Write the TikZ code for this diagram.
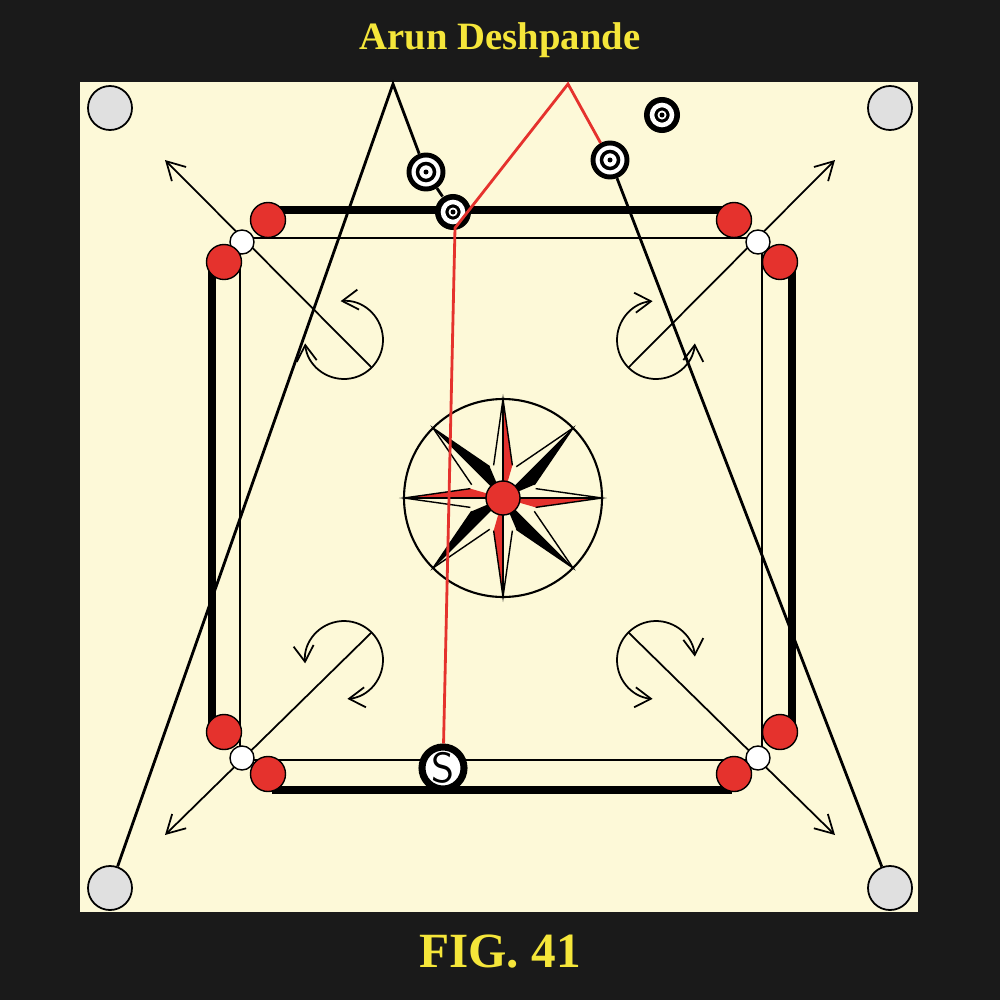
\documentclass[tikz,border=0pt]{standalone}
\usepackage{fontspec}
\setmainfont{Liberation Serif}
\usetikzlibrary{arrows.meta,calc}
\definecolor{board}{HTML}{FDF9D8}
\definecolor{frame}{HTML}{1A1A1A}
\definecolor{coinred}{HTML}{E5322D}
\definecolor{title}{HTML}{F5E63A}
\tikzset{
  pocket/.style={circle, draw=black, fill=black!12, line width=0.5pt, minimum size=0.44cm, inner sep=0pt},
  redcoin/.style={circle, draw=black, fill=coinred, line width=0.4pt, minimum size=0.35cm, inner sep=0pt},
  ring/.style={circle, draw=black, fill=white, line width=0.4pt, minimum size=0.24cm, inner sep=0pt},
  spin/.style={line width=0.5pt, {Straight Barb[length=1.6mm,width=2mm]}-{Straight Barb[length=1.6mm,width=2mm]}},
  aim/.style={line width=0.5pt, -{Straight Barb[length=1.8mm,width=2mm]}},
  shot/.style={line width=0.8pt},
}
% target style coins: white or black
\newcommand{\wcoin}[2]{%
  \node[circle, draw=black, fill=white, line width=1.4pt, minimum size=0.34cm, inner sep=0pt] (#1) at #2 {};
  \draw[line width=1pt] #2 circle (0.085cm);
  \fill #2 circle (0.025cm);}
\newcommand{\bcoin}[2]{%
  \node[circle, fill=black, minimum size=0.36cm, inner sep=0pt] (#1) at #2 {};
  \draw[white, line width=1.3pt] #2 circle (0.1cm);
  \fill[white] #2 circle (0.045cm);
  \fill #2 circle (0.025cm);}
\begin{document}
\begin{tikzpicture}[x=0.01cm, y=-0.01cm]
  \useasboundingbox (0,0) rectangle (1000,1000);
  \fill[frame] (0,0) rectangle (1000,1000);
  \fill[board] (80,82) rectangle (918,912);
  % pockets
  \node[pocket] (ptl) at (110,108) {};
  \node[pocket] (ptr) at (890,108) {};
  \node[pocket] (pbl) at (110,888) {};
  \node[pocket] (pbr) at (890,888) {};
  % base lines
  \draw[line width=2.2pt] (272,210) -- (732,210) (272,790) -- (732,790)
    (212,265) -- (212,728) (792,265) -- (792,728);
  \draw[line width=0.6pt] (254,238) -- (746,238) (254,760) -- (746,760)
    (240,254) -- (240,746) (762,254) -- (762,746);
  % corner aim lines and spin arcs
  \foreach \cx/\cy/\tx/\ty/\ea/\sa/\fa in {344/340/165/160/45/-95/175, 656/340/835/160/135/5/265,
      344/660/165/835/-45/-185/85, 656/660/835/835/225/95/355} {
    \draw[aim] (\cx,\cy) ++(\ea:39) -- (\tx,\ty);
    \draw[spin] (\cx,\cy) ++(\sa:39) arc[start angle=\sa, end angle=\fa, radius=39];
  }
  \foreach \p in {(242,242), (758,242), (242,758), (758,758)}
    \node[ring] at \p {};
  \foreach \p [count=\i] in {(268,220), (734,220), (224,262), (780,262),
      (224,732), (780,732), (268,774), (734,774)}
    \node[redcoin] (r\i) at \p {};
  % centre star
  \draw[line width=0.6pt] (503,498) circle (99);
  \foreach \a [count=\i] in {0,45,...,315} {
    \ifodd\i \def\fc{coinred}\def\w{16}\else \def\fc{black}\def\w{22}\fi
    \fill[\fc] (503,498) -- ($(503,498)+(\a:99)$) -- ($(503,498)+(\a+\w:34)$) -- cycle;
    \draw[line width=0.4pt] ($(503,498)+(\a+\w:34)$) -- ($(503,498)+(\a:99)$)
      -- ($(503,498)+(\a-\w:34)$);
    \draw[line width=0.3pt] (503,498) -- ($(503,498)+(\a:99)$);
  }
  \node[redcoin, minimum size=0.34cm] (queen) at (503,498) {};
  % coins
  \wcoin{c1}{(426,172)}
  \bcoin{c2}{(453,212)}
  \wcoin{c3}{(610,160)}
  \bcoin{c4}{(662,115)}
  \node[circle, draw=black, fill=white, line width=2pt, minimum size=0.42cm, inner sep=0pt,
    font=\sffamily\large] (striker) at (443,768) {S};
  % shots
  \coordinate (bL) at (393,84);
  \coordinate (bR) at (568,84);
  \coordinate (kink) at (455,228);
  \draw[shot] (pbl) -- (bL) -- (c1) -- (c2);
  \draw[shot] (c3) -- (pbr);
  \draw[shot, coinred] (striker) -- (kink) -- (bR) -- (c3);
  % titles
  \node[title, font=\bfseries\fontsize{11}{13}\selectfont] (name) at (500,40) {Arun Deshpande};
  \node[title, font=\bfseries\fontsize{14}{16}\selectfont] (fig) at (500,952) {FIG. 41};
\end{tikzpicture}
\end{document}
